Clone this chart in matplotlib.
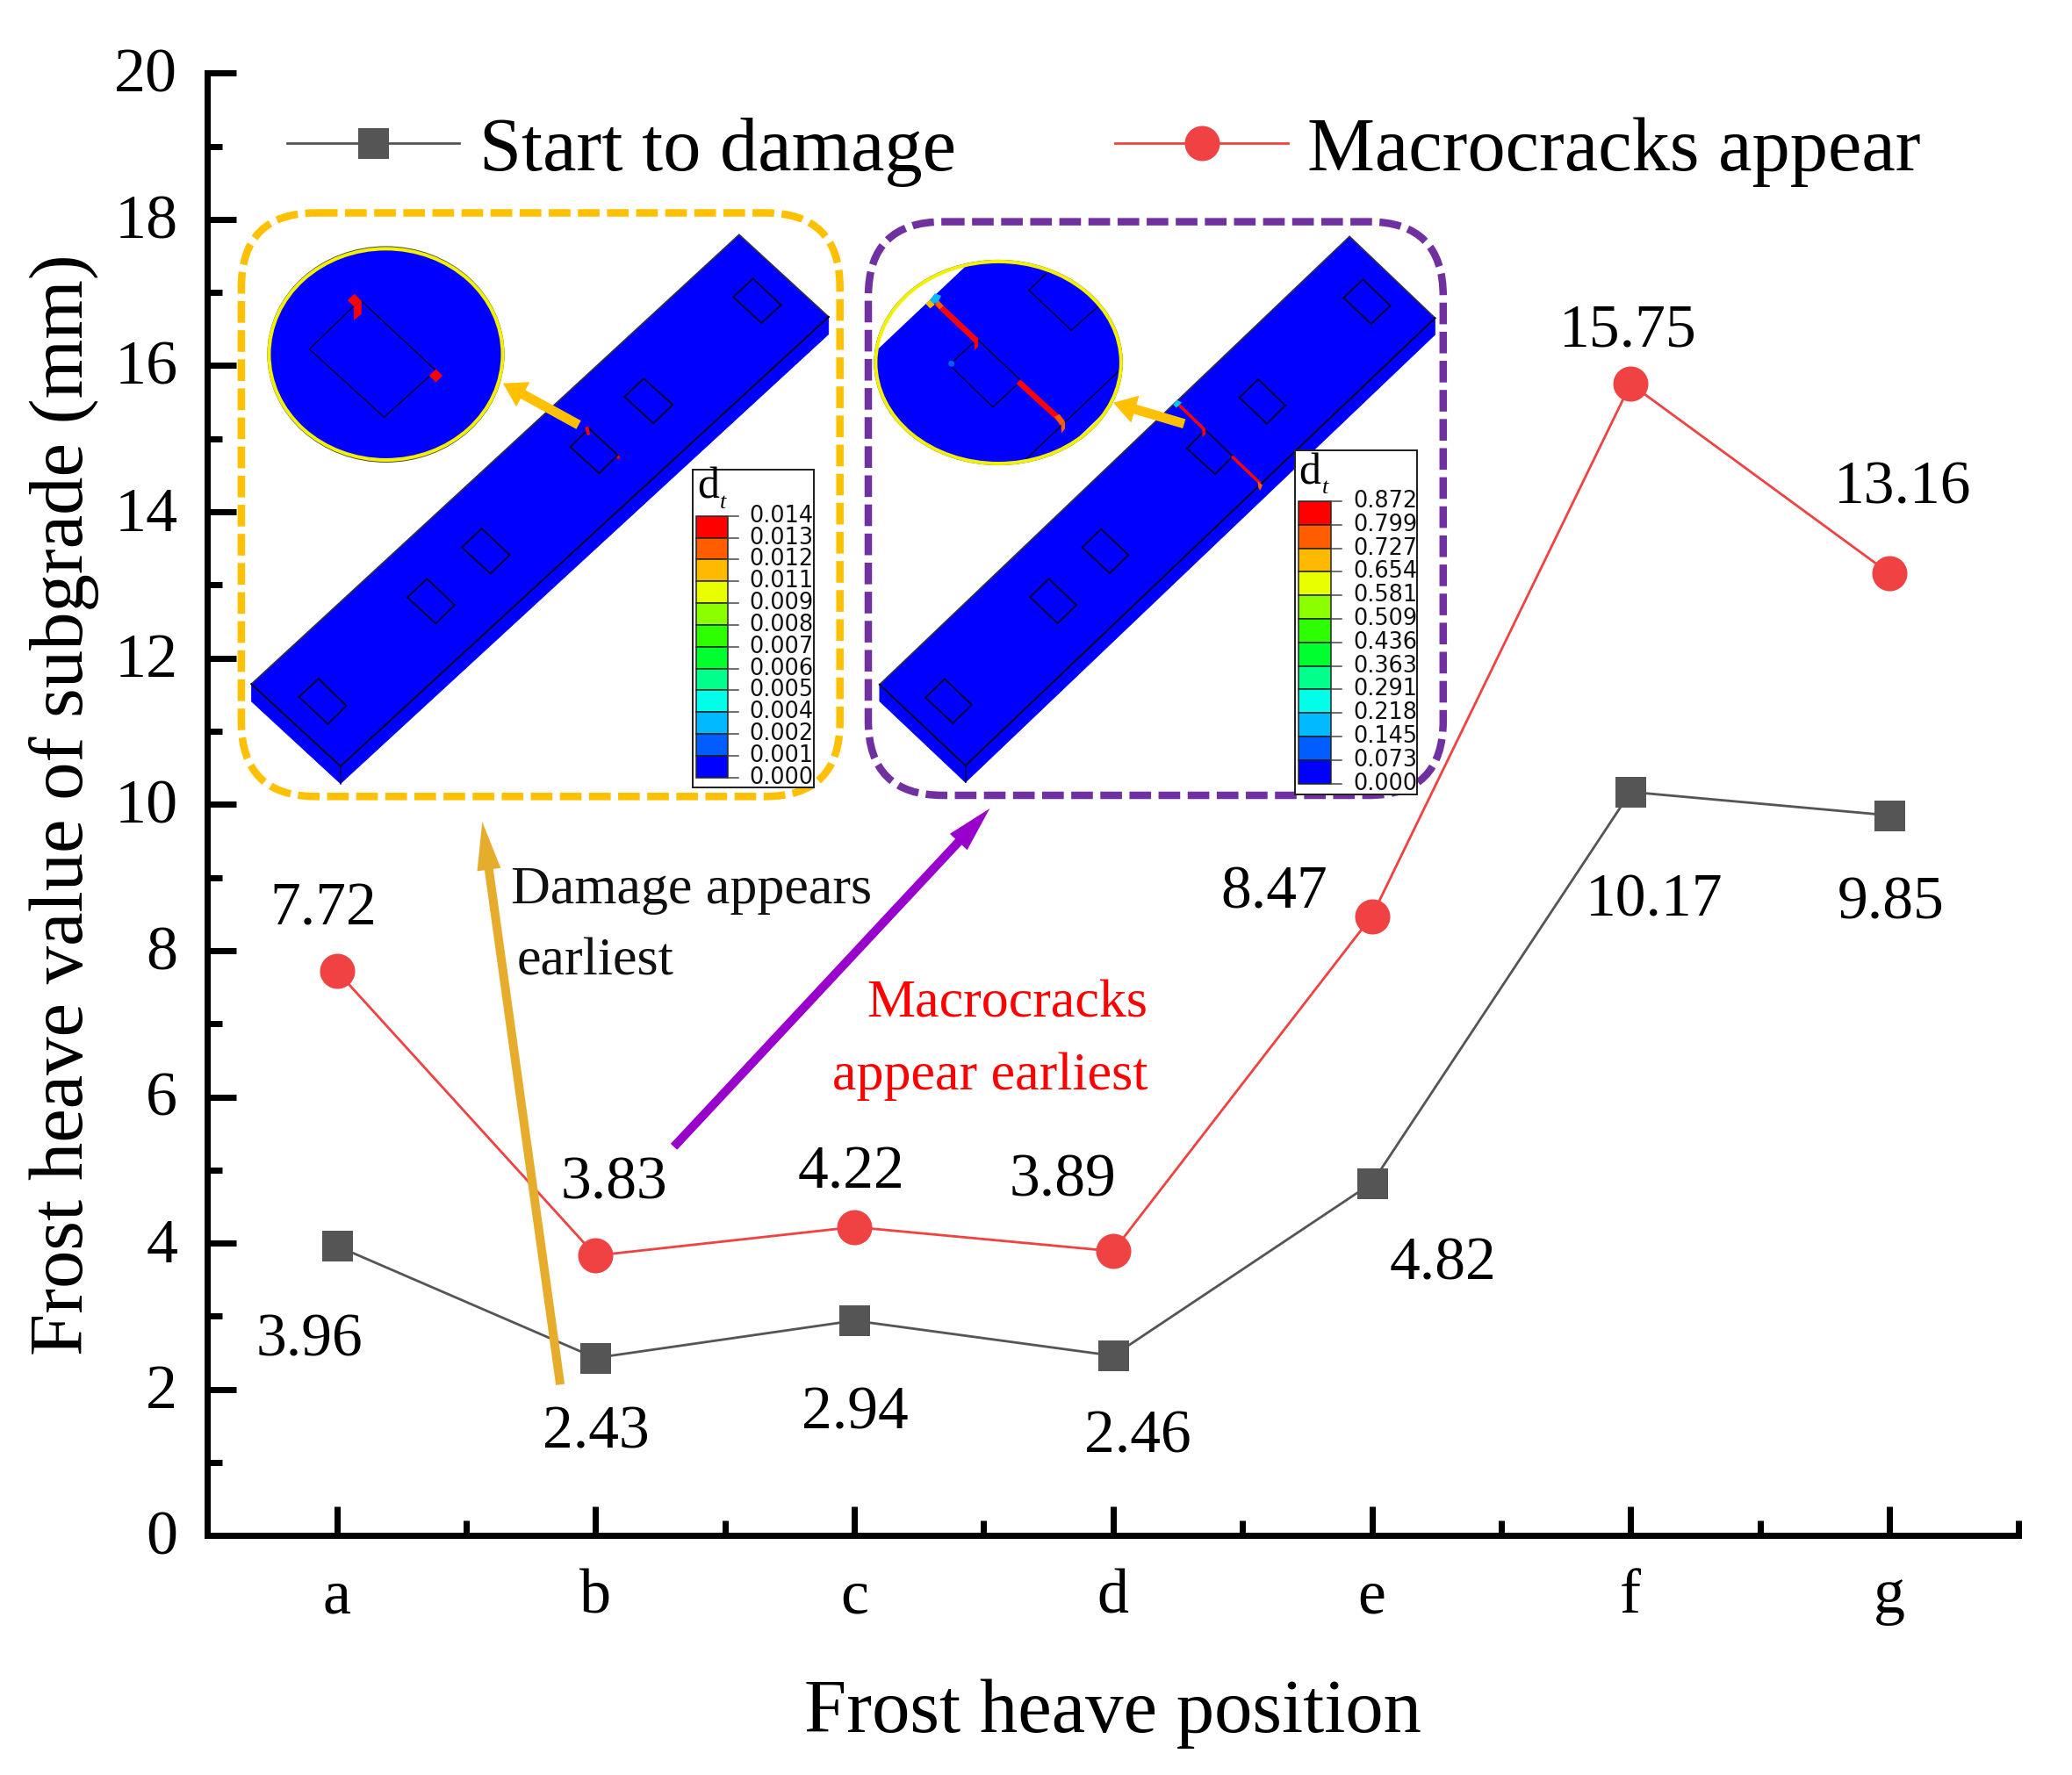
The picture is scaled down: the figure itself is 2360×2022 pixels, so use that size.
import matplotlib
matplotlib.use("Agg")
import matplotlib.pyplot as plt
from matplotlib.patches import FancyBboxPatch, Polygon, Ellipse, Rectangle, FancyArrow
from matplotlib.ticker import MultipleLocator
from matplotlib.transforms import ScaledTranslation

# ---------- data ----------
positions = ['a', 'b', 'c', 'd', 'e', 'f', 'g']
start_damage = [3.96, 2.43, 2.94, 2.46, 4.82, 10.17, 9.85]
macrocracks = [7.72, 3.83, 4.22, 3.89, 8.47, 15.75, 13.16]
series_names = ['Start to damage', 'Macrocracks appear']
legend1_labels = ['0.014', '0.013', '0.012', '0.011', '0.009', '0.008', '0.007',
                  '0.006', '0.005', '0.004', '0.002', '0.001', '0.000']
legend2_labels = ['0.872', '0.799', '0.727', '0.654', '0.581', '0.509', '0.436',
                  '0.363', '0.291', '0.218', '0.145', '0.073', '0.000']
contour_colors = ['#FF0000', '#FF5D00', '#FFB900', '#E8FF00', '#8BFF00', '#2EFF00',
                  '#00FF2E', '#00FF8B', '#00FFE8', '#00B9FF', '#005DFF', '#0000FF']

W, H = 2360, 2022
DPI = 100
PT = 72 / DPI  # points per pixel
S = 1.505      # preview-to-pixel factor

plt.rcParams['font.family'] = ['Liberation Serif', 'DejaVu Serif']
plt.rcParams['mathtext.fontset'] = 'stix'

fig = plt.figure(figsize=(W / DPI, H / DPI), dpi=DPI, facecolor='white')
L, R, T, B = 236.3, 2299.3, 83.3, 1749.3
ax = fig.add_axes([L / W, 1 - B / H, (R - L) / W, (B - T) / H])

x = list(range(1, len(positions) + 1))
GREY, RED = '#555555', '#F04242'
l1, = ax.plot(x, start_damage, '-s', color=GREY, lw=2.8 * PT, ms=35 * PT, mec=GREY, mew=0,
              label=series_names[0], clip_on=False)
l2, = ax.plot(x, macrocracks, '-o', color=RED, lw=2.8 * PT, ms=40 * PT, mec=RED, mew=0,
              label=series_names[1], clip_on=False)

ax.set_xlim(0.5, 7.5)
ax.set_ylim(0, 20)
ax.set_xticks(x)
ax.set_xticklabels(positions)
ax.xaxis.set_minor_locator(MultipleLocator(0.5))
ax.yaxis.set_major_locator(MultipleLocator(2))
ax.yaxis.set_minor_locator(MultipleLocator(1))
for s in ('top', 'right'):
    ax.spines[s].set_visible(False)
for s in ('left', 'bottom'):
    ax.spines[s].set_linewidth(7 * PT)
ax.tick_params(which='major', direction='in', length=33 * PT, width=7 * PT, labelsize=72 * PT)
ax.tick_params(which='minor', direction='in', length=17 * PT, width=7 * PT)
ax.tick_params(axis='y', which='major', pad=34 * PT)
ax.tick_params(axis='x', which='major', pad=38 * PT)
ax.set_xlabel('Frost heave position', fontsize=86.8 * PT, labelpad=60 * PT)
ax.set_ylabel('Frost heave value of subgrade (mm)', fontsize=86.8 * PT, labelpad=17 * PT)
lift = ScaledTranslation(0, 3.5 / DPI, fig.dpi_scale_trans)
for lab in ax.get_yticklabels():
    lab.set_transform(lab.get_transform() + lift)

leg = ax.legend(handles=[l1, l2], loc='upper left', ncols=2, frameon=False,
                bbox_to_anchor=(327 / W, 1 - 133 / H), bbox_transform=fig.transFigure,
                fontsize=86.5 * PT, handlelength=2.27, handletextpad=0.26, columnspacing=2.10,
                borderpad=0, borderaxespad=0, numpoints=1)

# ---------- overlay in pixel coordinates ----------
ov = fig.add_axes([0, 0, 1, 1], facecolor='none')
ov.set_xlim(0, W)
ov.set_ylim(H, 0)
ov.axis('off')

BLUE = '#0000FF'
EDGE = '#00003A'


def mapper(sx, sy, ox, oy):
    return lambda pts: [(px / sx + ox, py / sy + oy) for px, py in pts]


def box(x0, y0, x1, y1, color):
    ov.add_patch(FancyBboxPatch((x0, y0), x1 - x0, y1 - y0,
                                boxstyle='round,pad=0,rounding_size=85', fill=False,
                                ec=color, lw=8.5 * PT, linestyle=(0, (2.9, 1.0)),
                                capstyle='butt', zorder=3))


def beam(m, top, thick, squares):
    a, b, c, d = top
    ov.add_patch(Polygon(m([d, c, (c[0], c[1] + thick), (d[0], d[1] + thick)]), closed=True,
                         fc=BLUE, ec=BLUE, lw=0.5, zorder=4))
    ov.add_patch(Polygon(m([c, b, (b[0], b[1] + thick), (c[0], c[1] + thick)]), closed=True,
                         fc=BLUE, ec=BLUE, lw=0.5, zorder=4))
    ov.add_patch(Polygon(m(top), closed=True, fc=BLUE, ec='#30304A', lw=1.2, zorder=4))
    a, b, c, d = m(top)
    ov.plot([d[0], c[0], b[0]], [d[1], c[1], b[1]], color=EDGE, lw=2 * PT, zorder=5)
    v = m([(top[2][0], top[2][1] + thick)])[0]
    ov.plot([c[0], c[0]], [c[1], v[1]], color=EDGE, lw=1.5 * PT, zorder=5)
    for q in squares:
        ov.add_patch(Polygon(m(q), closed=True, fill=False, ec=EDGE, lw=2 * PT, zorder=5))


def contour_legend(m, frame, bar, tick_end, text_x, labels, sub):
    (fx0, fy0), (fx1, fy1) = m(frame)
    ov.add_patch(Rectangle((fx0, fy0), fx1 - fx0, fy1 - fy0, fc='white', ec='#222222',
                           lw=2 * PT, zorder=6))
    (bx0, by0), (bx1, by1) = m(bar)
    step = (by1 - by0) / len(contour_colors)
    for i, c in enumerate(contour_colors):
        ov.add_patch(Rectangle((bx0, by0 + i * step), bx1 - bx0, step, fc=c, ec='#222222',
                               lw=1.5 * PT, zorder=7))
    tx = m([(tick_end, 0)])[0][0]
    lx = m([(text_x, 0)])[0][0]
    for i, lab in enumerate(labels):
        yy = by0 + i * step
        ov.plot([bx1, tx], [yy, yy], color='#444444', lw=1.5 * PT, zorder=7)
        ov.text(lx, yy, lab, family='DejaVu Sans', fontsize=25.5 * PT, va='center', ha='left',
                color='#111111', zorder=8)
    ov.text(fx0 + 5, by0 - 9, 'd', fontsize=50 * PT, va='bottom', ha='left', zorder=8)
    ov.text(fx0 + 31, by0 - 4, sub, fontsize=26 * PT, style='italic', va='bottom', ha='left', zorder=8)


def arrow(x0, y0, x1, y1, color, width, hw, hl, zorder=9):
    ov.add_patch(FancyArrow(x0, y0, x1 - x0, y1 - y0, width=width, head_width=hw, head_length=hl,
                            length_includes_head=True, fc=color, ec=color, lw=0, zorder=zorder))


# --- left panel ---
SX1, SY1 = 2.09, 2.178
m1 = mapper(SX1, SY1, 250, 220)
box(274.9, 242.5, 956.7, 907.3, '#FFC000')
beam(m1, [(1237, 103), (1450, 307), (288, 1422), (76, 1218)], 43,
     [[(236, 1205), (302, 1272), (258, 1317), (189, 1250)],
      [(494, 957), (560, 1022), (515, 1068), (447, 1003)],
      [(624, 832), (691, 898), (645, 944), (577, 879)],
      [(880, 584), (948, 650), (904, 695), (835, 630)],
      [(1010, 460), (1079, 525), (1033, 571), (964, 505)],
      [(1270, 212), (1337, 278), (1290, 322), (1223, 258)]])
ov.add_patch(Polygon(m1([(870, 582), (878, 578), (882, 598), (876, 602)]), fc='red', ec='none', zorder=6))
ov.add_patch(Polygon(m1([(945, 655), (950, 650), (954, 656), (949, 661)]), fc='red', ec='none', zorder=6))
c1 = m1([(396, 400)])[0]
ov.add_patch(Ellipse(c1, 278 * 2 / SX1 + 2, 264 * 2 / SY1 + 2, fc='none', ec='#444444', lw=1.5, zorder=5))
ov.add_patch(Ellipse(c1, 278 * 2 / SX1, 262 * 2 / SY1, fc=BLUE, ec='#F2F200', lw=4 * PT, zorder=6))
ov.add_patch(Polygon(m1([(335, 265), (515, 440), (392, 556), (214, 387)]), fill=False, ec=EDGE,
                     lw=1.5 * PT, zorder=7))
ov.add_patch(Polygon(m1([(321, 250), (337, 266), (321, 282), (305, 266)]), fc='red', ec='none', zorder=7))
ov.add_patch(Polygon(m1([(320, 283), (338, 265), (338, 300), (320, 315)]), fc='red', ec='none', zorder=7))
ov.add_patch(Polygon(m1([(515, 437), (531, 453), (515, 469), (499, 453)]), fc='red', ec='none', zorder=7))
a0, a1 = m1([(855, 575), (675, 472)])
arrow(a0[0], a0[1], a1[0], a1[1], '#FFC000', 11, 32, 26)
contour_legend(m1, [(1126, 685), (1415, 1475)], [(1134, 801), (1211, 1450)], 1236, 1262,
               legend1_labels, 't')

# --- right panel ---
SX2, SY2 = 2.24, 2.208
m2 = mapper(SX2, SY2, 980, 230)
box(989, 252.6, 1643.8, 906, '#7030A0')
beam(m2, [(1248, 87), (1466, 292), (268, 1418), (49, 1214)], 42,
     [[(215, 1200), (284, 1265), (236, 1311), (166, 1247)],
      [(481, 948), (551, 1014), (503, 1060), (433, 994)],
      [(614, 823), (684, 888), (636, 934), (566, 869)],
      [(880, 573), (950, 640), (905, 685), (833, 620)],
      [(1015, 446), (1084, 512), (1037, 558), (967, 492)],
      [(1282, 195), (1352, 261), (1303, 307), (1233, 241)]])
for seg in ([(812, 510), (877, 572)], [(948, 640), (1020, 708)]):
    p = m2(seg)
    ov.plot([p[0][0], p[1][0]], [p[0][1], p[1][1]], color='red', lw=3.5 * PT, zorder=6, solid_capstyle='butt')
ov.add_patch(Polygon(m2([(1014, 703), (1026, 712), (1020, 726), (1015, 718)]), fc='#FF5D00', ec='none', zorder=6))
ov.add_patch(Polygon(m2([(872, 572), (880, 570), (880, 585), (873, 592)]), fc='red', ec='none', zorder=6))
ov.add_patch(Polygon(m2([(798, 510), (808, 498), (820, 505), (806, 518)]), fc='#00C8E0', ec='none', zorder=6))
c2 = m2([(352, 404)])[0]
ell = Ellipse(c2, 313 * 2 / SX2, 254 * 2 / SY2, fc='white', ec='none', zorder=6)
ov.add_patch(ell)
inner = Polygon(m2([(265, 165), (270, 130), (700, 130), (700, 455), (480, 665), (0, 665), (0, 412)]),
                fc=BLUE, ec='none', zorder=6)
ov.add_patch(inner)
inner.set_clip_path(ell)
clipped = []
for pts in ([(430, 222), (538, 323), (610, 260)], [(475, 180), (430, 222)],
            [(298, 345), (410, 450), (338, 516), (227, 410), (298, 345)],
            [(665, 420), (425, 645)]):
    p = m2(pts)
    clipped.append(ov.plot([q[0] for q in p], [q[1] for q in p], color=EDGE, lw=1.5 * PT, zorder=7)[0])
for seg in ([(195, 255), (297, 350)], [(403, 452), (515, 553)]):
    p = m2(seg)
    clipped.append(ov.plot([p[0][0], p[1][0]], [p[0][1], p[1][1]], color='red', lw=6.5 * PT, zorder=8,
                           solid_capstyle='butt')[0])
for ln in clipped:
    ln.set_clip_path(ell)
ov.add_patch(Polygon(m2([(291, 349), (300, 342), (300, 365), (291, 373)]), fc='red', ec='none', zorder=8))
ov.add_patch(Polygon(m2([(512, 560), (522, 553), (522, 570), (513, 582)]), fc='#FF5D00', ec='none', zorder=8))
ov.add_patch(Polygon(m2([(495, 540), (508, 534), (522, 553), (510, 562)]), fc='#FF5D00', ec='none', zorder=8))
ov.add_patch(Polygon(m2([(190, 256), (200, 248), (212, 262), (202, 270)]), fc='#FF5D00', ec='none', zorder=8))
ov.add_patch(Polygon(m2([(166, 256), (178, 246), (190, 258), (178, 268)]), fc='#FFB900', ec='none', zorder=8))
ov.add_patch(Polygon(m2([(178, 246), (190, 230), (206, 236), (198, 252), (186, 256)]), fc='#00B9FF', ec='none', zorder=8))
ov.add_patch(Ellipse(m2([(232, 407)])[0], 7, 7, fc='#005DFF', ec='none', zorder=8))
ov.add_patch(Ellipse(c2, 313 * 2 / SX2 + 2, 254 * 2 / SY2 + 2, fc='none', ec='#444444', lw=1.5, zorder=8))
ov.add_patch(Ellipse(c2, 313 * 2 / SX2, 254 * 2 / SY2, fc='none', ec='#F2F200', lw=4 * PT, zorder=8))
a0, a1 = m2([(826, 558), (645, 505)])
arrow(a0[0], a0[1], a1[0], a1[1], '#FFC000', 11, 32, 26)
contour_legend(m2, [(1108, 625), (1420, 1490)], [(1117, 753), (1201, 1463)], 1228, 1258,
               legend2_labels, 't')

# --- call-out arrows and notes ---
arrow(424 * S, 1048 * S, 365 * S, 622 * S, '#E6AC2C', 10, 27, 55)
arrow(510 * S, 868 * S, 749 * S, 612 * S, '#9900CC', 10, 27, 52)

ov.text(387 * S, 674 * S, 'Damage appears', fontsize=62 * PT, ha='left', va='center', color='#111111')
ov.text(391 * S, 728 * S, 'earliest', fontsize=62 * PT, ha='left', va='center', color='#111111')
ov.text(656 * S, 760 * S, 'Macrocracks', fontsize=62 * PT, ha='left', va='center', color='#FF0000')
ov.text(630 * S, 815 * S, 'appear earliest', fontsize=62 * PT, ha='left', va='center', color='#FF0000')

# --- value labels ---
start_label_xy = [(234, 1015), (451, 1085), (647, 1070), (861, 1088), (1092, 957), (1252, 682), (1431, 684)]
crack_label_xy = [(245, 689), (465, 896), (644, 888), (804, 894), (964, 676), (1232, 251), (1440, 370)]
for vals, xy in ((start_damage, start_label_xy), (macrocracks, crack_label_xy)):
    for v, (tx, ty) in zip(vals, xy):
        ov.text(tx * S, ty * S, f'{v:.2f}', fontsize=69.5 * PT, ha='center', va='center', color='black')

fig.savefig('out.png', dpi=DPI, facecolor='white')
